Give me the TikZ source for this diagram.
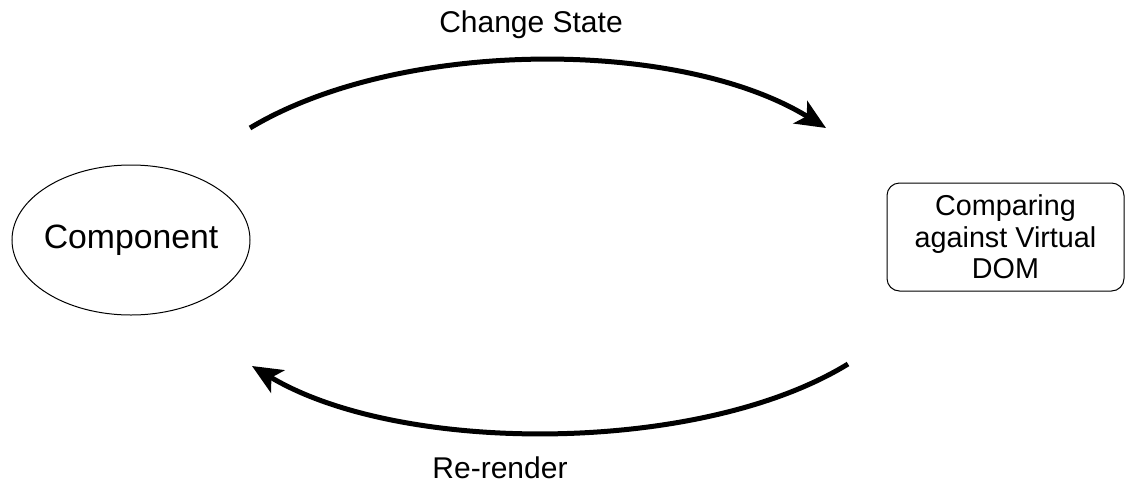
\documentclass[tikz,border=0pt]{standalone}
\usepackage{fontspec}
\setmainfont{Liberation Sans}
\usepackage{tikz}
\usetikzlibrary{positioning, shapes.geometric, arrows.meta}

\begin{document}
\begin{tikzpicture}[x=0.4pt, y=-0.4pt,
                comp/.style={draw=black, thin, ellipse, inner xsep=-10pt, inner ysep=0pt, minimum width=95.2pt, minimum height=60pt, font=\fontsize{13.5}{15}\selectfont},
                stepbox/.style={draw=black, thin, rectangle, rounded corners=5pt, minimum width=94.8pt, minimum height=43.2pt, align=center, font=\fontsize{11.5}{12.6}\selectfont},
                flow/.style={line width=2pt, -{Stealth[length=12pt, width=10.5pt, inset=3pt]}},
                flowlabel/.style={font=\fontsize{12}{14}\selectfont}
            ]

            \useasboundingbox (0,0) rectangle (1128,487);

            % Knoten
            \node[comp] (component) at (131,240) {Component};
            \node[stepbox] (compare) at (1005.5,237) {Comparing\\against Virtual\\DOM};

            % Endpunkte der Boegen
            \coordinate (topstart) at (250,128);
            \coordinate (topend) at (826,128);
            \coordinate (botstart) at (848,364);
            \coordinate (botend) at (252,366);

            % Boegen
            \draw[flow] (topstart) .. controls (400,38) and (680,38) .. (topend) node[flowlabel] (change) at (531,25) {Change State};
            \draw[flow] (botstart) .. controls (700,455) and (400,455) .. (botend) node[flowlabel] (rerender) at (500,468) {Re-render};

        \end{tikzpicture}
\end{document}
